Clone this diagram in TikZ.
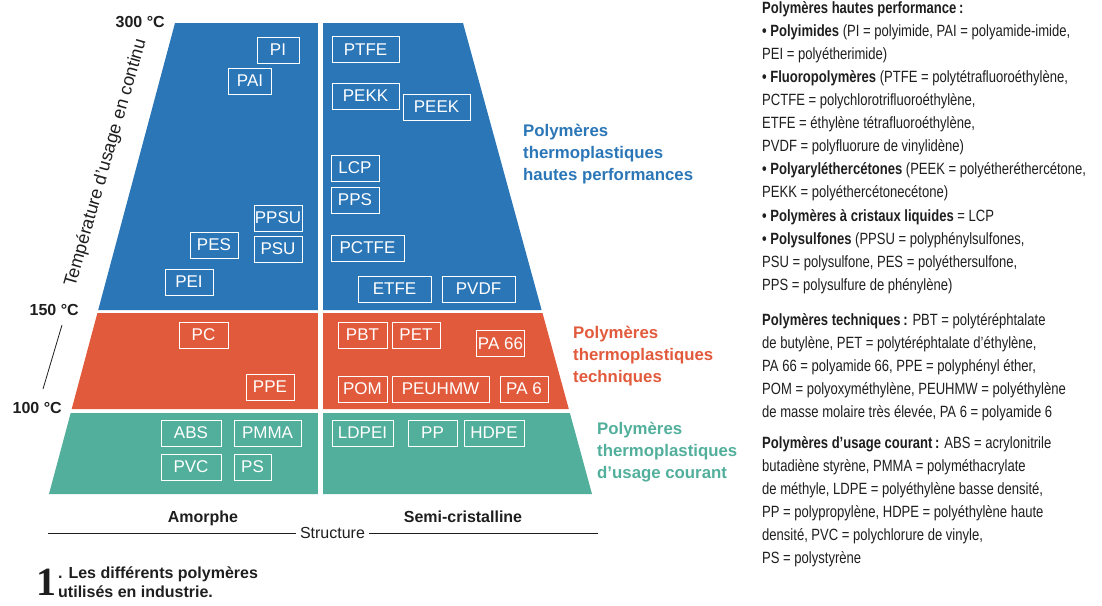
\documentclass[tikz,border=0pt]{standalone}
\usepackage{fontspec}
\setmainfont{Liberation Sans}
\newfontfamily\condfont[FakeStretch=0.8]{Liberation Sans}
\newfontfamily\serifone{Liberation Serif}
\definecolor{pblue}{RGB}{43,118,183}
\definecolor{porange}{RGB}{226,90,60}
\definecolor{pteal}{RGB}{82,175,155}
\definecolor{ink}{RGB}{30,30,30}
\tikzset{
  pbox/.style={draw=white, line width=0.9pt, text=white, inner sep=0pt, minimum height=26pt, font=\fontsize{17}{19}\selectfont},
  cat/.style={anchor=west, align=left, inner sep=0pt, font=\bfseries\fontsize{16.8}{22}\selectfont},
  temp/.style={anchor=east, inner sep=0pt, text=ink, font=\bfseries\fontsize{16}{18}\selectfont},
  legend/.style={anchor=north west, align=left, inner sep=0pt, text=ink, font=\condfont\fontsize{16.3}{23.1}\selectfont},
  struct/.style={inner sep=0pt, text=ink, font=\bfseries\fontsize{16}{18}\selectfont},
  rule/.style={draw=ink, line width=0.8pt}
}
\begin{document}
\begin{tikzpicture}[x=1pt,y=-1pt]
\path[use as bounding box] (0,0) rectangle (1102,605);
% bands
\fill[pblue] (175,23) -- (463,23) -- (541.6,310) -- (98.2,310) -- cycle;
\fill[porange] (97.4,313) -- (542.5,313) -- (568.8,409) -- (71.7,409) -- cycle;
\fill[pteal] (70.7,413) -- (569.9,413) -- (592,494) -- (49,494) -- cycle;
\draw[white, line width=4.5pt] (320.5,20) -- (320.5,497);
% blue boxes
\node[pbox, minimum width=42pt] (pi) at (278,50) {PI};
\node[pbox, minimum width=43pt] (pai) at (250,81) {PAI};
\node[pbox, minimum width=48pt] (ppsu) at (278,218) {PPSU};
\node[pbox, minimum width=48pt] (pes) at (214,245) {PES};
\node[pbox, minimum width=48pt] (psu) at (278,249) {PSU};
\node[pbox, minimum width=48pt] (pei) at (189,282) {PEI};
\node[pbox, minimum width=67pt] (ptfe) at (365.5,49.5) {PTFE};
\node[pbox, minimum width=67pt] (pekk) at (365.5,96) {PEKK};
\node[pbox, minimum width=67pt] (peek) at (436.5,107) {PEEK};
\node[pbox, minimum width=48pt] (lcp) at (355,168) {LCP};
\node[pbox, minimum width=48pt] (pps) at (355,200) {PPS};
\node[pbox, minimum width=73pt] (pctfe) at (367.5,248) {PCTFE};
\node[pbox, minimum width=73pt] (etfe) at (394.5,289) {ETFE};
\node[pbox, minimum width=73pt] (pvdf) at (478.5,289) {PVDF};
% orange boxes
\node[pbox, minimum width=49pt] (pc) at (203.5,335) {PC};
\node[pbox, minimum width=48pt] (ppe) at (270,387) {PPE};
\node[pbox, minimum width=49pt] (pbt) at (362.5,335) {PBT};
\node[pbox, minimum width=48pt] (pet) at (416,335) {PET};
\node[pbox, minimum width=48pt] (pa66) at (500.5,343.5) {PA 66};
\node[pbox, minimum width=49pt] (pom) at (362.5,389) {POM};
\node[pbox, minimum width=97pt] (peuhmw) at (440.5,389) {PEUHMW};
\node[pbox, minimum width=48pt] (pa6) at (524,389) {PA 6};
% teal boxes
\node[pbox, minimum width=60pt] (abs) at (191,433) {ABS};
\node[pbox, minimum width=67pt] (pmma) at (267.5,433) {PMMA};
\node[pbox, minimum width=60pt] (pvc) at (191,467) {PVC};
\node[pbox, minimum width=37pt] (ps) at (252.5,467) {PS};
\node[pbox, minimum width=61pt] (ldpei) at (362.5,433) {LDPEI};
\node[pbox, minimum width=49pt] (pp) at (432.5,433) {PP};
\node[pbox, minimum width=60pt] (hdpe) at (494,433) {HDPE};
% category labels
\node[cat, text=pblue] (cathp) at (523,154) {Polymères\\thermoplastiques\\hautes performances};
\node[cat, text=porange] (catte) at (573,356) {Polymères\\thermoplastiques\\techniques};
\node[cat, text=pteal] (catuc) at (597,452) {Polymères\\thermoplastiques\\d’usage courant};
% temperature axis
\node[temp] (t300) at (165,22) {300 °C};
\node[temp] (t150) at (79,310) {150 °C};
\node[temp] (t100) at (62,408) {100 °C};
\coordinate (ta) at (62,325);
\coordinate (tb) at (43,389);
\draw[rule] (ta) -- (tb);
\node[inner sep=0pt, text=ink, rotate=74, font=\fontsize{18}{20}\selectfont] (axis) at (106,163) {Température d’usage en continu};
% structure
\node[struct] (amorphe) at (203,518) {Amorphe};
\node[struct] (semi) at (463,517) {Semi-cristalline};
\node[inner sep=0pt, text=ink, font=\fontsize{16}{18}\selectfont] (structure) at (332.5,533) {Structure};
\coordinate (sl) at (48,533);
\coordinate (sr) at (598,533);
\draw[rule] (sl) -- ([xshift=-4pt]structure.west);
\draw[rule] ([xshift=4pt]structure.east) -- (sr);
% caption
\node[anchor=base west, inner sep=0pt, text=ink, font=\serifone\bfseries\fontsize{40}{40}\selectfont] (capnum) at (36,595) {1};
\node[anchor=base west, inner sep=0pt, text=ink, font=\bfseries\fontsize{16}{18}\selectfont] (cap1) at (58,578) {. Les différents polymères};
\node[anchor=base west, inner sep=0pt, text=ink, font=\bfseries\fontsize{16}{18}\selectfont] (cap2) at (58,597) {utilisés en industrie.};
% legend
\node[legend] (leg1) at (762,1) {%
{\bfseries Polymères hautes performance\,:}\\
{\bfseries • Polyimides} (PI = polyimide, PAI = polyamide-imide,\\
PEI = polyétherimide)\\
{\bfseries • Fluoropolymères} (PTFE = polytétrafluoroéthylène,\\
PCTFE = polychlorotrifluoroéthylène,\\
ETFE = éthylène tétrafluoroéthylène,\\
PVDF = polyfluorure de vinylidène)\\
{\bfseries • Polyaryléthercétones} (PEEK = polyétheréthercétone,\\
PEKK = polyéthercétonecétone)\\
{\bfseries • Polymères à cristaux liquides} = LCP\\
{\bfseries • Polysulfones} (PPSU = polyphénylsulfones,\\
PSU = polysulfone, PES = polyéthersulfone,\\
PPS = polysulfure de phénylène)};
\node[legend] (leg2) at (762,313) {%
{\bfseries Polymères techniques\,:} PBT = polytéréphtalate\\
de butylène, PET = polytéréphtalate d’éthylène,\\
PA 66 = polyamide 66, PPE = polyphényl éther,\\
POM = polyoxyméthylène, PEUHMW = polyéthylène\\
de masse molaire très élevée, PA 6 = polyamide 6};
\node[legend] (leg3) at (762,436) {%
{\bfseries Polymères d’usage courant\,:} ABS = acrylonitrile\\
butadiène styrène, PMMA = polyméthacrylate\\
de méthyle, LDPE = polyéthylène basse densité,\\
PP = polypropylène, HDPE = polyéthylène haute\\
densité, PVC = polychlorure de vinyle,\\
PS = polystyrène};
\end{tikzpicture}
\end{document}
